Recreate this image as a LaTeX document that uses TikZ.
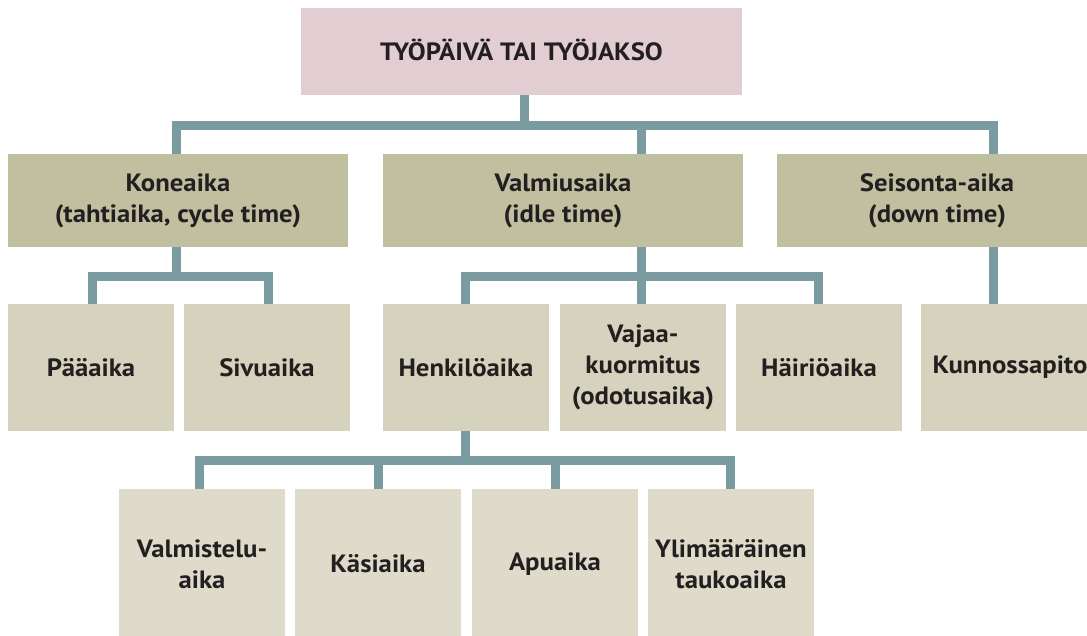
\documentclass[tikz,border=0pt]{standalone}
\usepackage{fontspec}
\setmainfont{PT Sans}[FakeStretch=1.07]
\definecolor{rootc}{HTML}{E2CDD3}
\definecolor{lvla}{HTML}{C0BFA0}
\definecolor{lvlb}{HTML}{D5D3BD}
\definecolor{lvlc}{HTML}{DEDBCB}
\definecolor{connc}{HTML}{7A9CA1}
\definecolor{txt}{HTML}{231F20}
\begin{document}
\begin{tikzpicture}[x=1pt,y=-1pt,
  box/.style={inner sep=0pt, outer sep=0pt, align=center, text=txt,
    font=\fontsize{25}{31}\selectfont\bfseries},
  conn/.style={draw=connc, line width=9pt, line join=miter}]
\useasboundingbox (0,0) rectangle (1087,635);
\clip (0,0) rectangle (1087,635);
% nodes
\node[box, fill=rootc, minimum width=441pt, minimum height=87pt, text depth=3pt] (root) at (521.5,51.5) {TYÖPÄIVÄ TAI TYÖJAKSO};
\node[box, fill=lvla, minimum width=340pt, minimum height=93pt] (kone) at (178,200.5) {Koneaika\\(tahtiaika, cycle time)};
\node[box, fill=lvla, minimum width=360pt, minimum height=93pt] (valm) at (563,200.5) {Valmiusaika\\(idle time)};
\node[box, fill=lvla, minimum width=320pt, minimum height=93pt] (seis) at (937,200.5) {Seisonta-aika\\(down time)};
\node[box, fill=lvlb, minimum width=166pt, minimum height=127pt] (paa) at (91,367.5) {Pääaika};
\node[box, fill=lvlb, minimum width=166pt, minimum height=127pt] (siv) at (267,367.5) {Sivuaika};
\node[box, fill=lvlb, minimum width=166pt, minimum height=127pt] (henk) at (466,367.5) {Henkilöaika};
\node[box, fill=lvlb, minimum width=166pt, minimum height=127pt] (vaj) at (643,367.5) {Vajaa-\\kuormitus\\(odotusaika)};
\node[box, fill=lvlb, minimum width=166pt, minimum height=127pt] (hai) at (819,367.5) {Häiriöaika};
\node[box, fill=lvlb, minimum width=178pt, minimum height=127pt, text depth=6pt] (kun) at (1010,367.5) {Kunnossapito};
\node[box, fill=lvlc, minimum width=166pt, minimum height=150pt] (vms) at (202,564) {Valmistelu-\\aika};
\node[box, fill=lvlc, minimum width=166pt, minimum height=150pt] (kas) at (378,564) {Käsiaika};
\node[box, fill=lvlc, minimum width=166pt, minimum height=150pt] (apu) at (555,564) {Apuaika};
\node[box, fill=lvlc, minimum width=166pt, minimum height=150pt] (yli) at (731,564) {Ylimääräinen\\taukoaika};
% bar coordinates
\coordinate (t0) at (524,125.5);
\coordinate (t1) at (176.5,125.5);
\coordinate (t2) at (641.7,125.5);
\coordinate (t3) at (993.5,125.5);
\coordinate (k1) at (92.5,276.5);
\coordinate (k2) at (268.5,276.5);
\coordinate (kc) at (176.5,276.5);
\coordinate (v1) at (465.5,276.5);
\coordinate (v2) at (641.7,276.5);
\coordinate (v3) at (818,276.5);
\coordinate (h0) at (465.5,460.5);
\coordinate (h1) at (199,460.5);
\coordinate (h2) at (378,460.5);
\coordinate (h3) at (555,460.5);
\coordinate (h4) at (730.5,460.5);
% connectors
\draw[conn] (t0 |- root.south) -- (t0);
\draw[conn] (t1 |- kone.north) -- (t1) -- (t3) -- (t3 |- seis.north);
\draw[conn] (t2) -- (t2 |- valm.north);
\draw[conn] (kc |- kone.south) -- (kc);
\draw[conn] (k1 |- paa.north) -- (k1) -- (k2) -- (k2 |- siv.north);
\draw[conn] (v2 |- valm.south) -- (v2 |- vaj.north);
\draw[conn] (v1 |- henk.north) -- (v1) -- (v3) -- (v3 |- hai.north);
\draw[conn] (t3 |- seis.south) -- (t3 |- kun.north);
\draw[conn] (h0 |- henk.south) -- (h0);
\draw[conn] (h1 |- vms.north) -- (h1) -- (h4) -- (h4 |- yli.north);
\draw[conn] (h2) -- (h2 |- kas.north);
\draw[conn] (h3) -- (h3 |- apu.north);
\end{tikzpicture}
\end{document}
